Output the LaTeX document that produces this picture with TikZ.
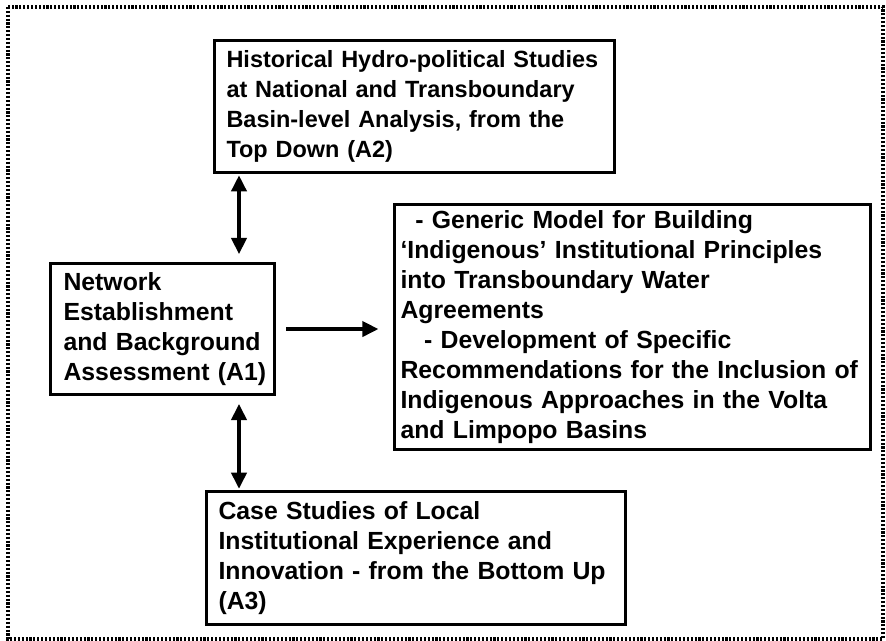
\documentclass[tikz,border=0pt]{standalone}
\usepackage{fontspec}
\setmainfont{Liberation Sans}
\usetikzlibrary{arrows.meta}
\begin{document}
\begin{tikzpicture}[x=0.75pt,y=-0.75pt,
  every node/.style={font=\fontsize{18.6}{22.5}\selectfont\bfseries},
  frame/.style={draw, line width=2.3pt, dash pattern=on 1.6pt off 1.3pt},
  box/.style={draw, line width=2.3pt, align=left, anchor=north west, inner ysep=0pt},
  link/.style={line width=2.3pt, {Triangle[length=12pt,width=11.5pt]}-{Triangle[length=12pt,width=11.5pt]}},
  flow/.style={line width=2.3pt, -{Triangle[length=12pt,width=11.5pt]}}]
\useasboundingbox (0,0) rectangle (886,641);
% dotted outer frame
\draw[frame] (8,7) rectangle (883,639);
% boxes
\node[box, font=\fontsize{17.6}{22.5}\selectfont\bfseries, inner xsep=9pt, text width=282pt, minimum height=99pt] (A2) at (213,39)
  {\mbox{Historical Hydro-political Studies}\\\mbox{at National and Transboundary}\\\mbox{Basin-level Analysis, from the}\\Top Down (A2)};
\node[box, inner xsep=9.75pt, text width=148.5pt, minimum height=98.25pt] (A1) at (49,262)
  {Network\\Establishment\\\mbox{and Background}\\\mbox{Assessment (A1)}};
\node[box, inner xsep=4.5pt, text width=348pt, minimum height=183.75pt] (R) at (393,203)
  {\hspace{0.6em}- Generic Model for Building\\\mbox{`Indigenous' Institutional Principles}\\into Transboundary Water\\Agreements\\\hspace{0.95em}- Development of Specific\\\mbox{Recommendations for the Inclusion of}\\\mbox{Indigenous Approaches in the Volta}\\and Limpopo Basins};
\node[box, inner xsep=9pt, text width=296.25pt, minimum height=99.75pt] (A3) at (205,490)
  {Case Studies of Local\\\mbox{Institutional Experience and}\\\mbox{Innovation - from the Bottom Up}\\(A3)};
% connectors
\coordinate (vx) at (239,0);
\draw[link, shorten <=1pt, shorten >=6pt] (A2.south -| vx) -- (A1.north -| vx);
\draw[link, shorten <=6pt, shorten >=1pt] (A1.south -| vx) -- (A3.north -| vx);
\draw[flow, shorten <=7.5pt, shorten >=11pt] (A1.east) -- (A1.east -| R.west);
\end{tikzpicture}
\end{document}
